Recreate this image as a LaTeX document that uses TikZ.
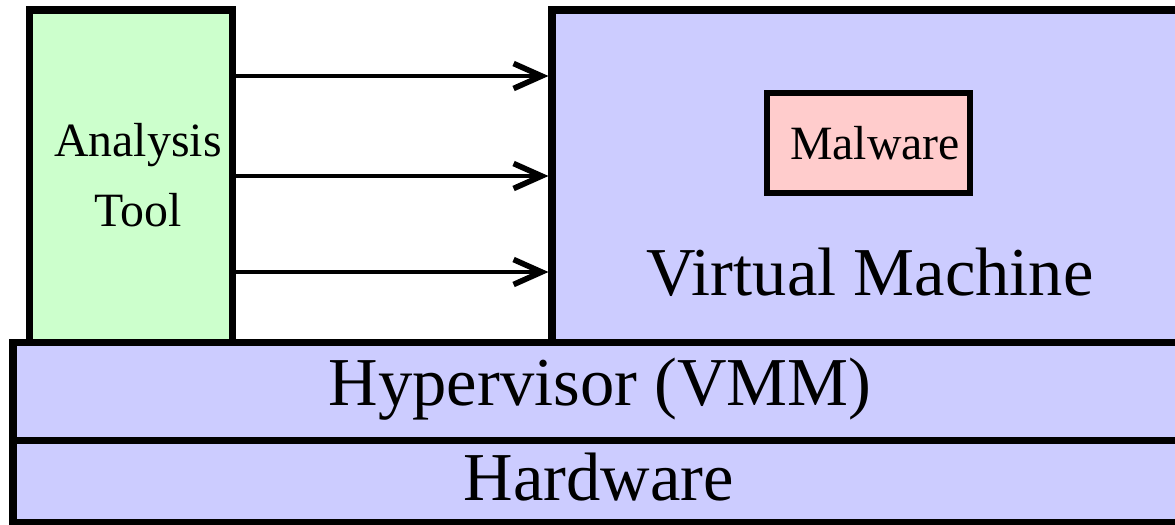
\documentclass[tikz,border=0pt]{standalone}
\usepackage{fontspec}
\setmainfont{Liberation Serif}
\usetikzlibrary{arrows.meta}

\definecolor{toolgreen}{HTML}{CCFFCC}
\definecolor{vmblue}{HTML}{CCCCFF}
\definecolor{malpink}{HTML}{FFCCCC}

\begin{document}
\begin{tikzpicture}[
  box/.style={draw, line width=2pt, rectangle, inner sep=0pt},
  big/.style={font=\fontsize{19.5}{23}\selectfont},
  small/.style={font=\fontsize{13.6}{19.8}\selectfont},
  call/.style={line width=1.1pt, -{Straight Barb[length=2.8mm,width=2.5mm,line width=1.6pt]}}
]
\useasboundingbox (0,0) rectangle (11.75,5.24);
\clip (0,0) rectangle (11.75,5.24);

\node[box, fill=vmblue, minimum width=11.75cm, minimum height=0.82cm] (HW) at (6.005,0.43) {};
\node[box, fill=vmblue, minimum width=11.75cm, minimum height=0.98cm] (HV) at (6.005,1.33) {};
\node[box, fill=toolgreen, minimum width=2.03cm, minimum height=3.32cm] (AT) at (1.31,3.48) {};
\node[box, fill=vmblue, minimum width=6.36cm, minimum height=3.32cm] (VM) at (8.70,3.48) {};
\node[box, fill=malpink, line width=1.8pt, minimum width=2.03cm, minimum height=1.00cm] (MW) at (8.685,3.81) {};

\node[big] (HWtext) at (5.99,0.47) {Hardware};
\node[big] (HVtext) at (6.00,1.35) {Hypervisor (VMM)};
\node[big] (VMtext) at (8.70,2.52) {Virtual Machine};
\node[small] (MWtext) at (8.75,3.81) {Malware};
\node[small, align=center] (ATtext) at (1.38,3.49) {Analysis\\Tool};

\draw[call] ([yshift=1cm]AT.east) -- ([yshift=1cm]VM.west);
\draw[call] (AT.east) -- (VM.west);
\draw[call] ([yshift=-0.96cm]AT.east) -- ([yshift=-0.96cm]VM.west);
\end{tikzpicture}
\end{document}
